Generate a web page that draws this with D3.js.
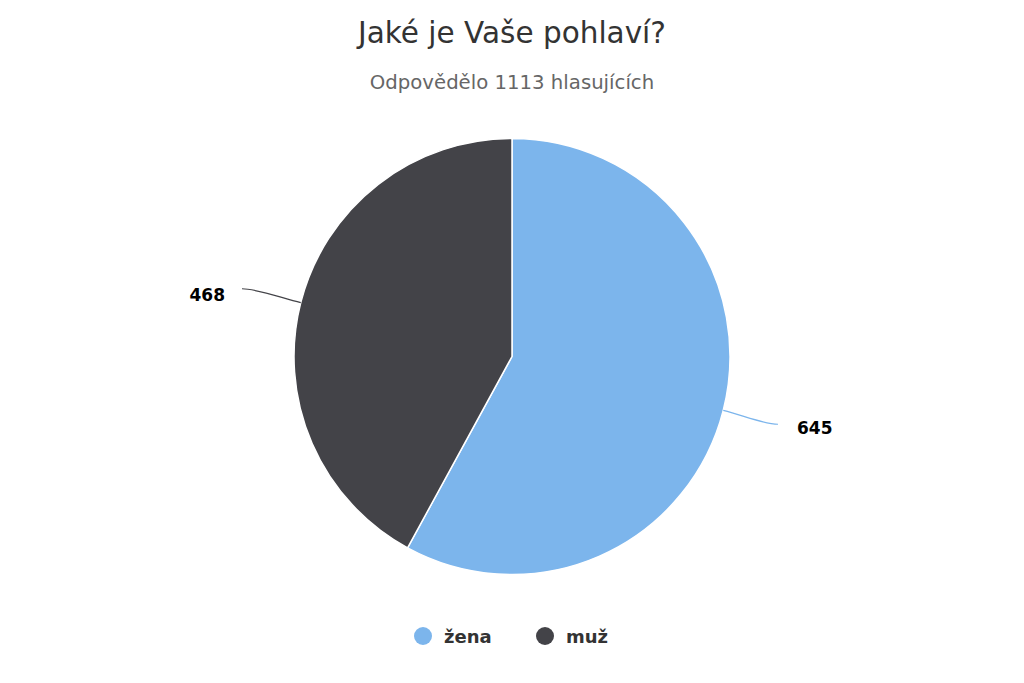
<!DOCTYPE html>
<html><head><meta charset="utf-8">
<script src="https://cdn.jsdelivr.net/npm/d3@7"></script>
<style>body{margin:0;background:#fff;}svg{display:block;font-family:"DejaVu Sans",sans-serif;}</style>
</head><body>
<svg id="c" width="1024" height="683"></svg>
<script>
const categories = ["žena", "muž"];
const values = [645, 468];
const colors = ["#7cb5ec", "#434348"];
const titleText = "Jaké je Vaše pohlaví?";
const subtitleText = "Odpovědělo 1113 hlasujících";

const svg = d3.select("#c");
const W = 1024, cx = 512, cy = 356.5, r = 218;

svg.append("text").attr("x", W/2).attr("y", 43).attr("text-anchor","middle")
  .attr("font-size", 29.5).attr("fill","#333333").text(titleText);
svg.append("text").attr("x", W/2).attr("y", 89).attr("text-anchor","middle")
  .attr("font-size", 19.7).attr("fill","#666666").text(subtitleText);

const data = categories.map((c,i)=>({cat:c, value:values[i], color:colors[i]}));
const pie = d3.pie().value(d=>d.value).sort(null);
const arcs = pie(data);
const arc = d3.arc().innerRadius(0).outerRadius(r);

const g = svg.append("g").attr("transform", `translate(${cx},${cy})`);
g.selectAll("path.slice").data(arcs).join("path").attr("class","slice")
  .attr("d", arc).attr("fill", d=>d.data.color)
  .attr("stroke","#ffffff").attr("stroke-width",1.5).attr("stroke-linejoin","round");

// data labels with soft connectors
arcs.forEach(a=>{
  const mid = (a.startAngle + a.endAngle)/2;
  const sx = Math.sin(mid), sy = -Math.cos(mid);
  const ex = sx*r, ey = sy*r;
  const right = sx > 0;
  const endX = right ? r+48 : -(r+52);
  const endY = sy*(r+56);
  const cpx = sx*(r+22), cpy = sy*(r+22);
  g.append("path")
    .attr("d", `M${endX},${endY} C${endX + (right?-14:14)},${endY} ${cpx},${cpy} ${ex},${ey}`)
    .attr("fill","none").attr("stroke", a.data.color).attr("stroke-width",1.2);
  g.append("text")
    .attr("x", right ? endX+19 : endX-17)
    .attr("y", endY + (right?5:7))
    .attr("text-anchor", right ? "start" : "end")
    .attr("dominant-baseline","middle")
    .attr("font-size", 17).attr("font-weight","bold").attr("fill","#000000")
    .text(a.data.value);
});

// legend
const legendX = [423, 545];
const lg = svg.append("g");
data.forEach((d,i)=>{
  lg.append("circle").attr("cx", legendX[i]).attr("cy", 636).attr("r", 9).attr("fill", d.color);
  lg.append("text").attr("x", legendX[i]+21).attr("y", 643)
    .attr("font-size", 18).attr("font-weight","bold").attr("fill","#333333").text(d.cat);
});
</script>
</body></html>
